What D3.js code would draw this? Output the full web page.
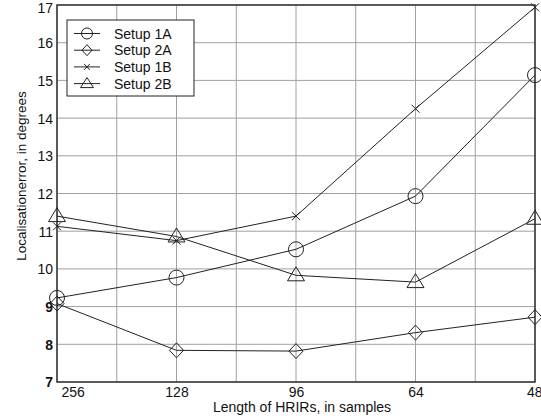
<!DOCTYPE html>
<html><head><meta charset="utf-8">
<script src="https://cdn.jsdelivr.net/npm/d3@7"></script>
<style>body{margin:0;background:#fff}svg{display:block}text{font-family:"Liberation Sans",Arial,sans-serif;fill:#111}</style>
</head><body>
<script>
const categories = ["256","128","96","64","48"];
const yTicks = [7,8,9,10,11,12,13,14,15,16,17];
const setup1A = [9.23, 9.77, 10.52, 11.93, 15.14];
const setup2A = [9.08, 7.84, 7.82, 8.31, 8.72];
const setup1B = [11.13, 10.75, 11.4, 14.25, 16.94];
const setup2B = [11.4, 10.86, 9.83, 9.65, 11.33];
const seriesNames = ["Setup 1A","Setup 2A","Setup 1B","Setup 2B"];
const seriesMarkers = ["circle","diamond","x","triangle"];
const seriesValues = [setup1A, setup2A, setup1B, setup2B];

const W=541,H=419, L=57, R=535, T=5, B=382;
const svg=d3.select("body").append("svg").attr("width",W).attr("height",H);
const x=d3.scalePoint().domain(categories).range([L,R]);
const y=d3.scaleLinear().domain([7,17]).range([B,T]);

// grid
const step=x.step()/2;
const gx=d3.range(0,9).map(i=>L+i*step);
svg.append("g").selectAll("line").data(gx).join("line")
  .attr("x1",d=>d).attr("x2",d=>d).attr("y1",T).attr("y2",B)
  .attr("stroke","#a0a0a0").attr("stroke-width",1);
svg.append("g").selectAll("line").data(yTicks).join("line")
  .attr("x1",L).attr("x2",R).attr("y1",d=>y(d)).attr("y2",d=>y(d))
  .attr("stroke","#a0a0a0").attr("stroke-width",1);

// axes
const ya=svg.append("g").attr("transform",`translate(${L},0)`).call(d3.axisLeft(y).tickValues(yTicks).tickSize(0).tickPadding(4).tickFormat(d3.format("d")));
ya.select(".domain").remove();
ya.selectAll("text").style("font-size","14px").style("font-weight",d=>d<=9?"bold":"normal").attr("dy",d=>d===17?"0.55em":"0.35em");
const xa=svg.append("g").attr("transform",`translate(0,${B})`).call(d3.axisBottom(x).tickSize(0).tickPadding(5));
xa.select(".domain").remove();
xa.selectAll("text").style("font-size","14px");
xa.selectAll(".tick").filter(d=>d==="256").select("text").attr("text-anchor","start").attr("x",4);
xa.selectAll(".tick").filter(d=>d==="48").select("text").attr("text-anchor","end").attr("x",7);

svg.append("rect").attr("x",L).attr("y",T).attr("width",R-L).attr("height",B-T)
  .attr("fill","none").attr("stroke","#333").attr("stroke-width",1.5);

svg.append("text").attr("x",302).attr("y",412).attr("text-anchor","middle").style("font-size","14px").text("Length of HRIRs, in samples");
svg.append("text").attr("transform",`translate(26,176) rotate(-90)`).attr("text-anchor","middle").style("font-size","13.5px").text("Localisationerror, in degrees");

function marker(g,type){
  if(type==="circle") g.append("circle").attr("r",7.5).attr("fill","none").attr("stroke","#222");
  else if(type==="diamond") g.append("path").attr("d","M0,-7.5L7,0L0,7.5L-7,0Z").attr("fill","none").attr("stroke","#222");
  else if(type==="x") g.append("path").attr("d","M-4,-4L4,4M-4,4L4,-4").attr("fill","none").attr("stroke","#222");
  else g.append("path").attr("d","M0,-8.5L8.5,5.5L-8.5,5.5Z").attr("fill","none").attr("stroke","#222");
}
const line=d3.line().x((d,i)=>x(categories[i])).y(d=>y(d));
seriesValues.forEach((vals,k)=>{
  svg.append("path").datum(vals).attr("d",line).attr("fill","none").attr("stroke","#222").attr("stroke-width",1);
  vals.forEach((v,i)=>{
    const g=svg.append("g").attr("transform",`translate(${x(categories[i])},${y(v)})`);
    marker(g,seriesMarkers[k]);
  });
});

// legend
const lg=svg.append("g");
lg.append("rect").attr("x",67).attr("y",20).attr("width",127).attr("height",76).attr("fill","#fff").attr("stroke","#222").attr("stroke-width",1);
seriesNames.forEach((n,k)=>{
  const yy=33.5+k*16.7;
  lg.append("line").attr("x1",74).attr("x2",100).attr("y1",yy).attr("y2",yy).attr("stroke","#222");
  const g=lg.append("g").attr("transform",`translate(87,${yy})`);
  if(seriesMarkers[k]==="circle") g.append("circle").attr("r",5.5).attr("fill","none").attr("stroke","#222");
  else if(seriesMarkers[k]==="diamond") g.append("path").attr("d","M0,-5.5L5,0L0,5.5L-5,0Z").attr("fill","none").attr("stroke","#222");
  else if(seriesMarkers[k]==="x") g.append("path").attr("d","M-3,-3L3,3M-3,3L3,-3").attr("fill","none").attr("stroke","#222");
  else g.append("path").attr("d","M0,-6L6.5,4L-6.5,4Z").attr("fill","none").attr("stroke","#222");
  lg.append("text").attr("x",114).attr("y",yy).attr("dy","0.36em").style("font-size","14px").text(n);
});
</script>
</body></html>
